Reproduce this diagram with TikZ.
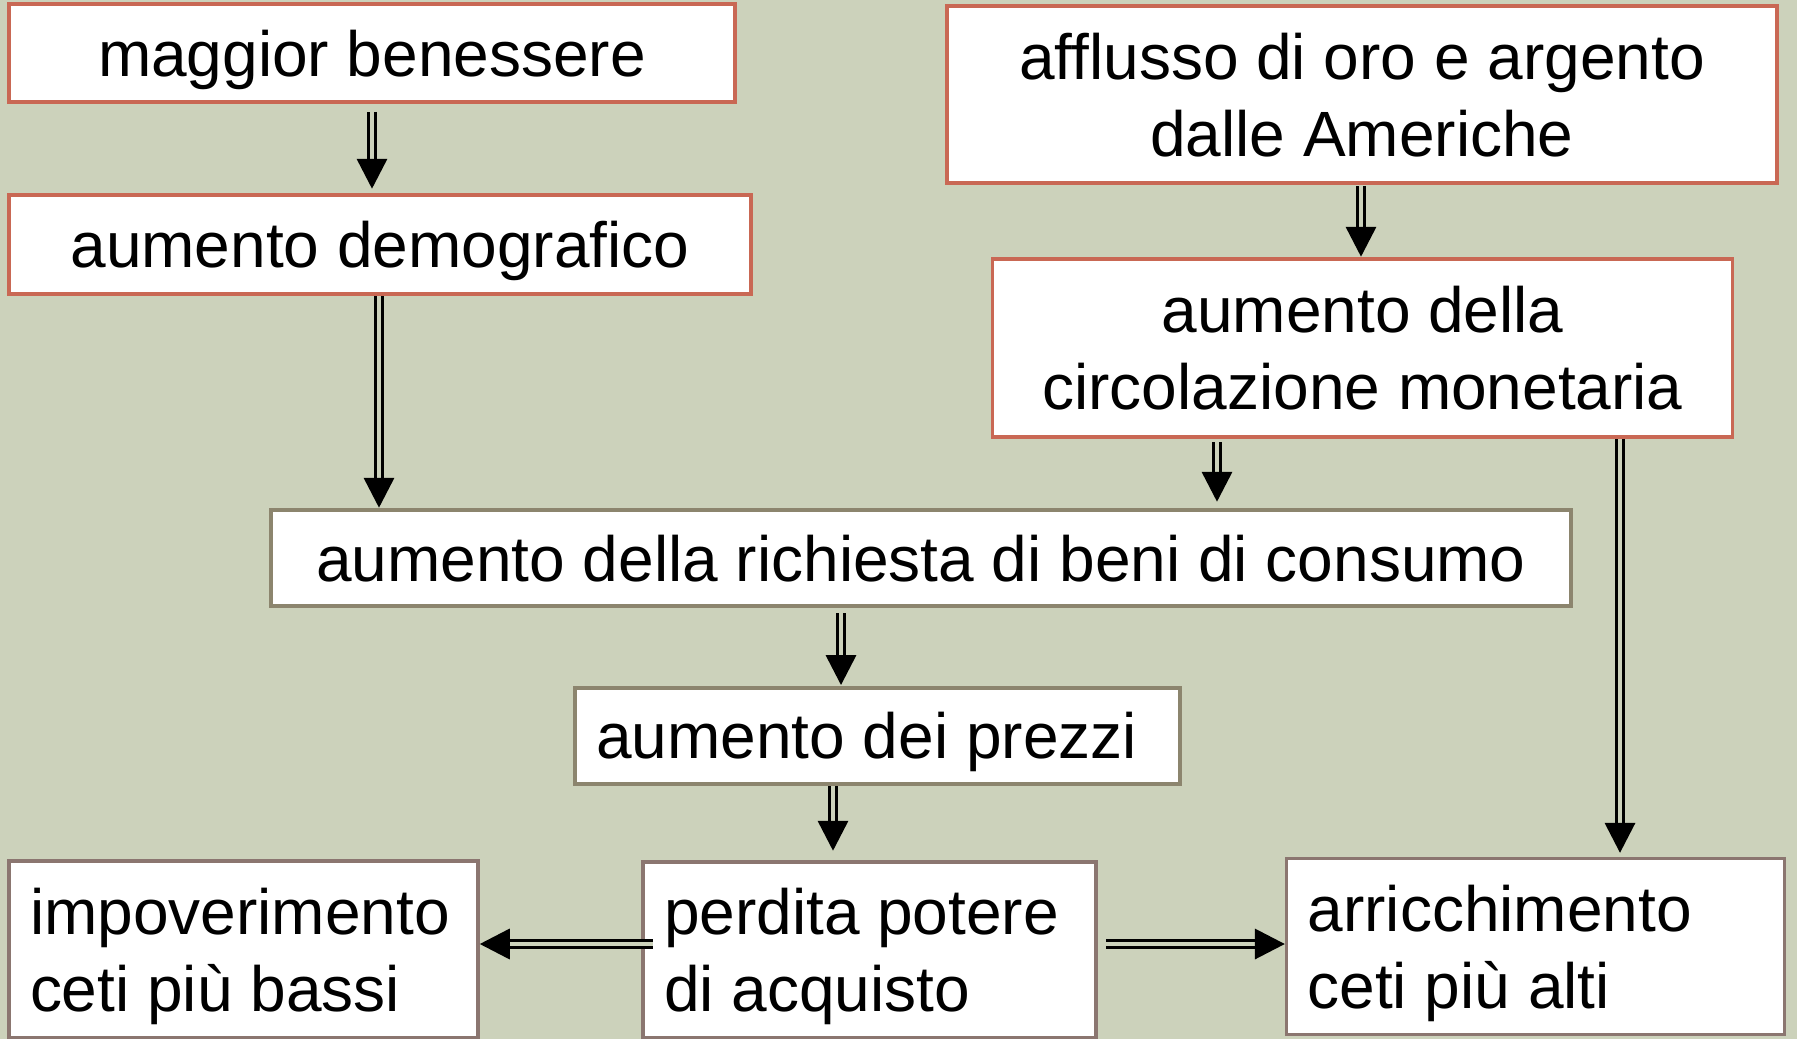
\documentclass[tikz,border=0pt]{standalone}
\usepackage{fontspec}
\setmainfont{Liberation Sans}
\usetikzlibrary{arrows.meta}
\definecolor{bg}{RGB}{204,210,187}
\definecolor{bordR}{RGB}{201,104,84}
\definecolor{bordO}{RGB}{140,133,110}
\definecolor{bordB}{RGB}{139,118,112}
\newcommand\st{\rule[-14pt]{0pt}{74pt}}
\tikzset{
  box/.style={draw, fill=white, line width=3.5pt, inner sep=0pt, align=center,
    font=\fontsize{64}{77}\selectfont},
  boxR/.style={box, draw=bordR},
  boxO/.style={box, draw=bordO},
  boxB/.style={box, draw=bordB},
  lbox/.style={align=flush left, inner xsep=21pt, inner ysep=0pt},
  conn/.style={draw=black, line width=3.5pt, double=bg, double distance=3.5pt,
    -{Triangle[length=30pt,width=30pt]}},
}
\begin{document}
\begin{tikzpicture}[x=1pt,y=-1pt]
\clip (0,0) rectangle (1797,1039);
\fill[bg] (0,0) rectangle (1797,1039);

\node[boxR, minimum width=726pt, minimum height=98pt] (A) at (372,53) {\st maggior benessere};
\node[boxR, minimum width=742pt, minimum height=99pt] (B) at (380,244.5) {\st aumento demografico};
\node[boxR, minimum width=830pt, minimum height=177pt] (D) at (1362,94.5) {\st afflusso di oro e argento\\\st dalle Americhe};
\node[boxR, minimum width=740pt, minimum height=178pt] (E) at (1362.6,348) {\st aumento della\\\st circolazione monetaria};
\node[boxO, minimum width=1300pt, minimum height=96pt] (C) at (921,558) {\st aumento della richiesta di beni di consumo};
\node[boxO, lbox, text width=563pt, minimum height=96pt] (F) at (877.7,735.8) {\st aumento dei prezzi};
\node[boxB, lbox, text width=411pt, minimum height=176pt] (G) at (869.5,950) {\st perdita potere\\\st di acquisto};
\node[boxB, lbox, text width=427pt, minimum height=177pt] (I) at (243.5,949.5) {\st impoverimento\\\st ceti più bassi};
\node[boxB, lbox, text width=456pt, minimum height=176pt] (H) at (1535.6,946.6) {\st arricchimento\\\st ceti più alti};

\coordinate (xAB) at (372,0);
\coordinate (xBC) at (379,0);
\coordinate (xDE) at (1361,0);
\coordinate (xEC) at (1217,0);
\coordinate (xEH) at (1620,0);
\coordinate (xCF) at (841,0);
\coordinate (xFG) at (833,0);
\coordinate (yG) at (0,944);

\draw[conn, shorten <=8pt, shorten >=4.5pt] (A.south -| xAB) -- (B.north -| xAB);
\draw[conn, shorten <=0.5pt, shorten >=0.5pt] (B.south -| xBC) -- (C.north -| xBC);
\draw[conn, shorten <=1pt, shorten >=0.5pt] (D.south -| xDE) -- (E.north -| xDE);
\draw[conn, shorten <=3.5pt, shorten >=6.5pt] (E.south -| xEC) -- (C.north -| xEC);
\draw[conn, shorten <=0pt, shorten >=4pt] (E.south -| xEH) -- (H.north -| xEH);
\draw[conn, shorten <=5.5pt, shorten >=1pt] (C.south -| xCF) -- (F.north -| xCF);
\draw[conn, shorten <=0.5pt, shorten >=9.5pt] (F.south -| xFG) -- (G.north -| xFG);
\draw[conn, shorten <=-11.5pt, shorten >=0pt] (G.west |- yG) -- (I.east |- yG);
\draw[conn, shorten <=8.5pt, shorten >=0pt] (G.east |- yG) -- (H.west |- yG);
\end{tikzpicture}
\end{document}
